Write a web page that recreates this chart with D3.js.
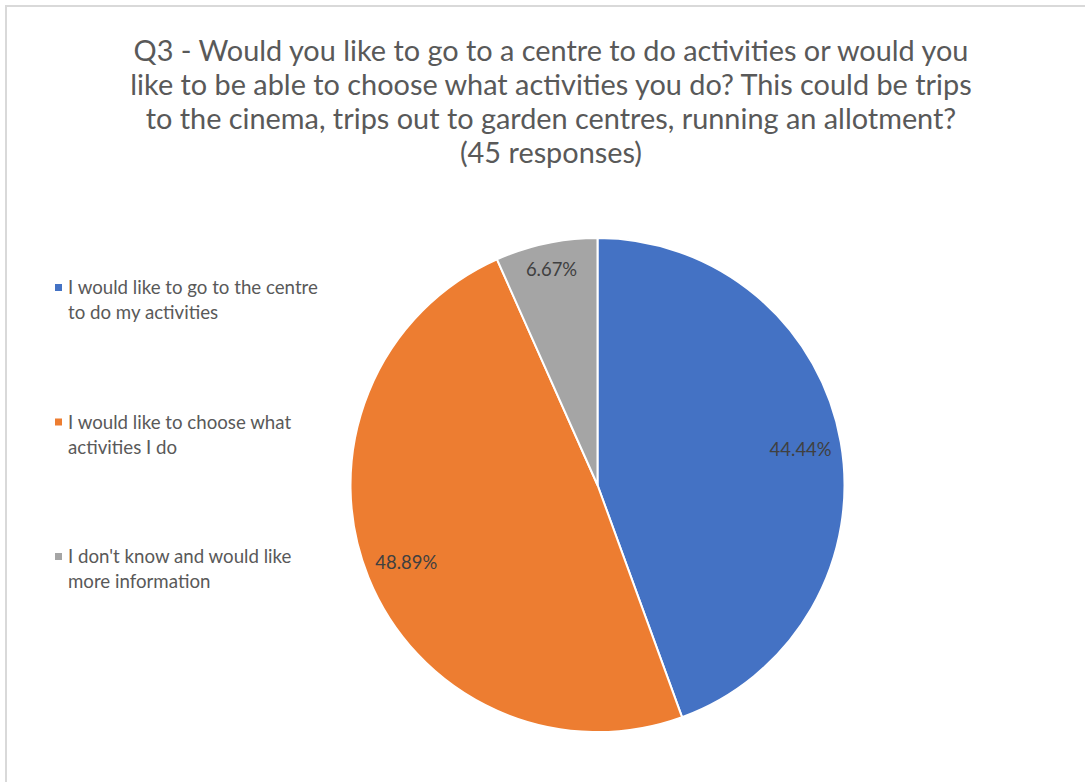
<!DOCTYPE html>
<html>
<head>
<meta charset="utf-8">
<script src="https://cdn.jsdelivr.net/npm/d3@7"></script>
<style>
  html, body { margin: 0; padding: 0; background: #fff; }
  svg { display: block; }
</style>
</head>
<body>
<svg id="chart" width="1085" height="782"></svg>
<script>
// Survey answers, in the order they run clockwise from twelve o'clock
const categories = [
  "I would like to go to the centre to do my activities",
  "I would like to choose what activities I do",
  "I don't know and would like more information"
];
const legendLines = [
  ["I would like to go to the centre", "to do my activities"],
  ["I would like to choose what", "activities I do"],
  ["I don't know and would like", "more information"]
];
const values = [44.44, 48.89, 6.67];
const colors = ["#4472C4", "#ED7D31", "#A5A5A5"];
const titleLines = [
  "Q3 - Would you like to go to a centre to do activities or would you",
  "like to be able to choose what activities you do? This could be trips",
  "to the cinema, trips out to garden centres, running an allotment?",
  "(45 responses)"
];

const svg = d3.select("#chart");
const FONT = "Lato, 'Open Sans', sans-serif";

// chart frame
svg.append("rect")
  .attr("x", 6).attr("y", 6).attr("width", 1090).attr("height", 790)
  .attr("fill", "#fff").attr("stroke", "#d9d9d9").attr("stroke-width", 2);

// size a font so a reference line spans the wanted width
function fitSize(text, targetWidth, start) {
  const t = svg.append("text").attr("font-family", FONT).attr("font-size", start).text(text);
  const w = t.node().getComputedTextLength();
  t.remove();
  return start * targetWidth / w;
}

// title
const titleSize = fitSize(titleLines[0], 835, 24);
const title = svg.append("text")
  .attr("font-family", FONT)
  .attr("font-size", titleSize)
  .attr("fill", "#595959")
  .attr("text-anchor", "middle");
titleLines.forEach((line, i) => {
  title.append("tspan").attr("x", 551).attr("y", 61 + i * 34).text(line);
});

// pie
const cx = 597.5, cy = 485, radius = 247;
const g = svg.append("g").attr("transform", `translate(${cx},${cy})`);
const pie = d3.pie().sort(null).value(d => d);
const arcs = pie(values);
const arc = d3.arc().innerRadius(0).outerRadius(radius);

g.selectAll("path.slice")
  .data(arcs)
  .join("path")
  .attr("class", "slice")
  .attr("d", arc)
  .attr("fill", (d, i) => colors[i])
  .attr("stroke", "#fff")
  .attr("stroke-width", 2)
  .attr("stroke-linejoin", "round");

// data labels sit inside each slice, nearer the rim on narrow slices
const labelSize = fitSize("44.44%", 62, 16);
g.selectAll("text.label")
  .data(arcs)
  .join("text")
  .attr("class", "label")
  .attr("transform", d => {
    const frac = (d.endAngle - d.startAngle) < 0.6 ? 0.895 : 0.835;
    const la = d3.arc().innerRadius(radius * frac).outerRadius(radius * frac);
    const [x, y] = la.centroid(d);
    return `translate(${x},${y})`;
  })
  .attr("text-anchor", "middle")
  .attr("dominant-baseline", "central")
  .attr("font-family", FONT)
  .attr("font-size", labelSize)
  .attr("fill", "#404040")
  .text(d => d.data.toFixed(2) + "%");

// legend
const legendSize = fitSize(legendLines[0][0], 250, 16);
const legendY = d3.scalePoint().domain(d3.range(categories.length)).range([288, 557]);
const legend = svg.append("g");
categories.forEach((c, i) => {
  const y = legendY(i);
  legend.append("rect")
    .attr("x", 55).attr("y", y - 4).attr("width", 7).attr("height", 7)
    .attr("fill", colors[i]);
  const t = legend.append("text")
    .attr("font-family", FONT)
    .attr("font-size", legendSize)
    .attr("fill", "#595959");
  legendLines[i].forEach((line, j) => {
    t.append("tspan").attr("x", 68).attr("y", y + 6 + j * 25).text(line);
  });
});
</script>
</body>
</html>
